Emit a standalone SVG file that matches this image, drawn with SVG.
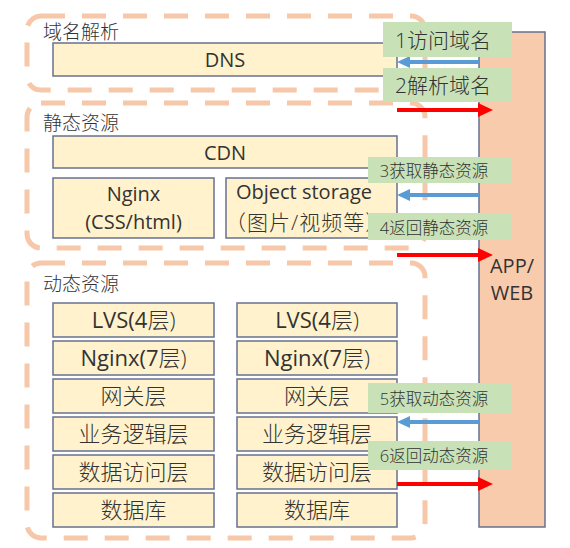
<svg xmlns="http://www.w3.org/2000/svg" width="570" height="548" viewBox="0 0 570 548">
<defs>
<style>
.grp{fill:none;stroke:#F6C7A8;stroke-width:5;stroke-dasharray:24 17}
.box{fill:#FFF2CC;stroke:#66728F;stroke-width:1.5}
.app{fill:#F8CBAD;stroke:#66728F;stroke-width:1.5}
.lbl{fill:#C9E1B7}
text{font-family:"Open Sans","Noto Sans CJK SC",sans-serif;fill:#333333;font-weight:300}
.lat{font-weight:400}
.t{font-size:19px}
.b{font-size:20px;text-anchor:middle}
.d{font-size:22px;text-anchor:middle}
.l1{font-size:21px;text-anchor:middle}
.l2{font-size:16.5px;text-anchor:middle}
.blue{stroke:#5B9BD5;stroke-width:4;fill:none}
.red{stroke:#FF0000;stroke-width:4;fill:none}
</style>
<marker id="hb" markerUnits="userSpaceOnUse" markerWidth="13" markerHeight="12" refX="0" refY="6" orient="auto"><path d="M0,0 L13,6 L0,12 z" fill="#5B9BD5"/></marker>
<marker id="hr" markerUnits="userSpaceOnUse" markerWidth="15" markerHeight="14" refX="0" refY="7" orient="auto"><path d="M0,0 L15,7 L0,14 z" fill="#FF0000"/></marker>
</defs>
<rect width="570" height="548" fill="#FFFFFF"/>

<g id="group-dns">
<rect class="grp" x="27" y="16" width="398" height="74" rx="14"/>
<text class="t" x="43" y="39">域名解析</text>
</g>
<g id="group-static">
<rect class="grp" x="27" y="103" width="398" height="145" rx="14"/>
<text class="t" x="43" y="130">静态资源</text>
</g>
<g id="group-dynamic">
<rect class="grp" x="27" y="263" width="398" height="275" rx="14"/>
<text class="t" x="43" y="291">动态资源</text>
</g>

<g id="dns"><rect class="box" x="53" y="43" width="344" height="33"/><text class="b lat" x="225" y="67">DNS</text></g>
<g id="cdn"><rect class="box" x="53" y="136" width="344" height="32"/><text class="b lat" x="225" y="160">CDN</text></g>
<g id="nginx-static"><rect class="box" x="53" y="178" width="161" height="60"/><text class="b lat" x="133.5" y="201">Nginx</text><text class="b lat" x="133.5" y="229">(CSS/html)</text></g>
<g id="object-storage"><rect class="box" x="226" y="178" width="171" height="60"/><text class="b lat" x="304" y="198.5">Object storage</text><text class="b" x="225" y="230" style="text-anchor:start;font-size:21px;letter-spacing:1px">（图片/视频等）</text></g>

<g id="lvs-1"><rect class="box" x="53" y="303" width="161" height="34"/><text class="d" x="133.5" y="328"><tspan class="lat">LVS(4</tspan>层)</text></g>
<g id="nginx-1"><rect class="box" x="53" y="341" width="161" height="34"/><text class="d" x="133.5" y="366"><tspan class="lat">Nginx(7</tspan>层)</text></g>
<g id="gateway-1"><rect class="box" x="53" y="379" width="161" height="34"/><text class="d" x="133.5" y="404">网关层</text></g>
<g id="biz-1"><rect class="box" x="53" y="417" width="161" height="34"/><text class="d" x="133.5" y="442">业务逻辑层</text></g>
<g id="dao-1"><rect class="box" x="53" y="455" width="161" height="34"/><text class="d" x="133.5" y="480">数据访问层</text></g>
<g id="db-1"><rect class="box" x="53" y="493" width="161" height="34"/><text class="d" x="133.5" y="518">数据库</text></g>

<g id="lvs-2"><rect class="box" x="237" y="303" width="160" height="34"/><text class="d" x="317" y="328"><tspan class="lat">LVS(4</tspan>层)</text></g>
<g id="nginx-2"><rect class="box" x="237" y="341" width="160" height="34"/><text class="d" x="317" y="366"><tspan class="lat">Nginx(7</tspan>层)</text></g>
<g id="gateway-2"><rect class="box" x="237" y="379" width="160" height="34"/><text class="d" x="317" y="404">网关层</text></g>
<g id="biz-2"><rect class="box" x="237" y="417" width="160" height="34"/><text class="d" x="317" y="442">业务逻辑层</text></g>
<g id="dao-2"><rect class="box" x="237" y="455" width="160" height="34"/><text class="d" x="317" y="480">数据访问层</text></g>
<g id="db-2"><rect class="box" x="237" y="493" width="160" height="34"/><text class="d" x="317" y="518">数据库</text></g>

<g id="app-web"><rect class="app" x="479" y="32" width="66" height="495"/><text class="b lat" x="512" y="273">APP/</text><text class="b lat" x="512" y="300">WEB</text></g>

<g id="connectors">
<line class="blue" x1="479" y1="62" x2="410" y2="62" marker-end="url(#hb)"/>
<line class="red" x1="397" y1="110" x2="478" y2="110" marker-end="url(#hr)"/>
<line class="blue" x1="479" y1="195" x2="410" y2="195" marker-end="url(#hb)"/>
<line class="red" x1="397" y1="255" x2="478" y2="255" marker-end="url(#hr)"/>
<line class="blue" x1="479" y1="422" x2="410" y2="422" marker-end="url(#hb)"/>
<line class="red" x1="397" y1="484" x2="478" y2="484" marker-end="url(#hr)"/>
</g>

<g id="labels">
<g id="label-1"><rect class="lbl" x="383" y="22" width="129" height="35"/><text class="l1" x="443" y="48">1访问域名</text></g>
<g id="label-2"><rect class="lbl" x="383" y="68" width="129" height="34"/><text class="l1" x="443" y="93">2解析域名</text></g>
<g id="label-3"><rect class="lbl" x="368" y="157" width="144" height="26"/><text class="l2" x="434" y="177">3获取静态资源</text></g>
<g id="label-4"><rect class="lbl" x="368" y="213" width="144" height="27"/><text class="l2" x="434" y="234">4返回静态资源</text></g>
<g id="label-5"><rect class="lbl" x="368" y="383" width="144" height="30"/><text class="l2" x="434" y="405">5获取动态资源</text></g>
<g id="label-6"><rect class="lbl" x="368" y="441" width="144" height="29"/><text class="l2" x="434" y="462">6返回动态资源</text></g>
</g>
</svg>
